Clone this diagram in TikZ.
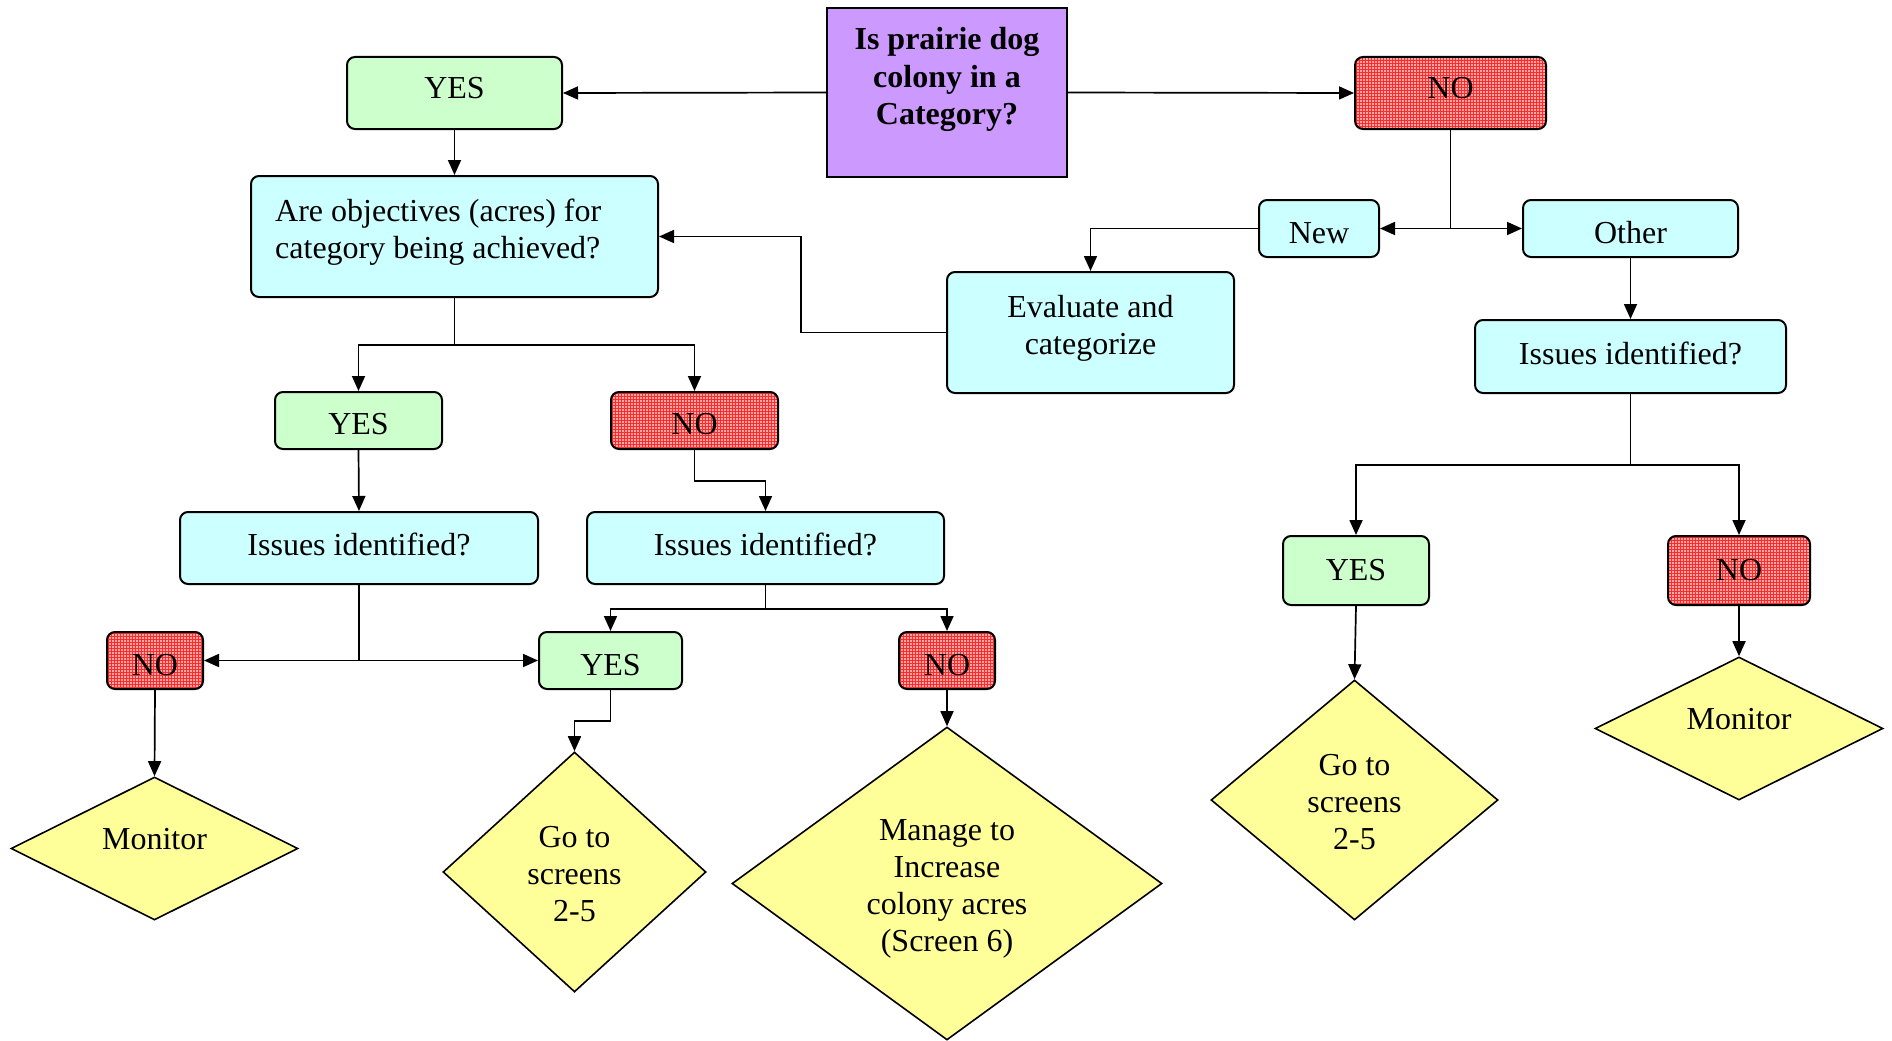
\documentclass[tikz,border=0pt]{standalone}
\usepackage{fontspec}
\setmainfont{Liberation Serif}
\usetikzlibrary{arrows.meta,shapes.geometric,patterns}
\definecolor{gfill}{HTML}{CCFFCC}
\definecolor{cfill}{HTML}{CCFFFF}
\definecolor{pfill}{HTML}{CC99FF}
\definecolor{yfill}{HTML}{FFFF99}
\definecolor{rfill}{HTML}{FFA8A8}
\definecolor{rgrid}{HTML}{FF2A2A}
\begin{document}
\begin{tikzpicture}[x=1pt,y=-1pt,
  every node/.style={font=\fontsize{32}{37}\selectfont, inner sep=0pt},
  wh/.style 2 args={minimum width=#1pt, minimum height=#2pt},
  box/.style={draw, line width=2pt, rounded corners=8pt, align=center},
  yesbox/.style={box, fill=gfill},
  nobox/.style={box, preaction={fill=rfill}, pattern=grid, pattern color=rgrid},
  cbox/.style={box, fill=cfill},
  qbox/.style={draw, line width=2pt, fill=pfill},
  diam/.style={diamond, draw, line width=1.6pt, fill=yfill},
  lbl/.style={align=center},
  conn/.style={line width=1.7pt, -{Triangle[length=15pt,width=13pt]}}
]
\useasboundingbox (0,0) rectangle (1892,1041);

% top row
\node[qbox, wh={240}{169}] (q) at (947,92.5) {};
\node[lbl, font=\fontsize{32}{37.5}\selectfont\bfseries] (qt) at (947,79.5) {Is prairie dog\\colony in a\\Category?};
\node[yesbox, wh={215}{72}, text depth=10pt] (yesTop) at (454.5,93) {YES};
\node[nobox, wh={191}{72}, text depth=10pt] (noTop) at (1450.5,93) {NO};

% objectives
\node[cbox, wh={407}{121}] (obj) at (454.5,236.5) {};
\node[align=left, anchor=west] (objt) at (275,232) {Are objectives (acres) for\\category being achieved?};

% New / Other
\node[cbox, wh={120}{57}, text height=30pt] (new) at (1319,228.5) {New};
\node[cbox, wh={215}{57}, text height=30pt] (other) at (1630.5,228.5) {Other};
\node[cbox, wh={287}{121}] (eval) at (1090.5,332.5) {};
\node[lbl] (evalt) at (1090.5,328.6) {Evaluate and\\categorize};
\node[cbox, wh={311}{73}, text depth=7pt] (issR) at (1630.5,356.5) {Issues identified?};

% middle left
\node[yesbox, wh={167}{57}, text height=28pt] (yesM) at (358.5,420.5) {YES};
\node[nobox, wh={167}{57}, text height=28pt] (noM) at (694.5,420.5) {NO};
\node[cbox, wh={358}{72}, text depth=7pt] (issL) at (359,548) {Issues identified?};
\node[cbox, wh={357}{72}, text depth=7pt] (issM) at (765.5,548) {Issues identified?};

% lower row boxes
\node[nobox, wh={96}{57}, text height=31pt] (noL) at (155,660.5) {NO};
\node[yesbox, wh={143}{57}, text height=31pt] (yesL) at (610.5,660.5) {YES};
\node[nobox, wh={96}{57}, text height=31pt] (noLM) at (947,660.5) {NO};
\node[yesbox, wh={146}{69}] (yesR) at (1356,570.5) {YES};
\node[nobox, wh={142}{69}] (noR) at (1739,570.5) {NO};

% diamonds
\node[diam, wh={287}{143}] (monL) at (154.5,848.5) {};
\node (monLt) at (154.5,838.8) {Monitor};
\node[diam, wh={263}{240}] (gotoL) at (574.5,872) {};
\node[lbl] (gotoLt) at (574.5,874.5) {Go to\\screens\\2-5};
\node[diam, wh={430}{313}] (manage) at (947,883.5) {};
\node[lbl] (managet) at (947,888.5) {Manage to\\Increase\\colony acres\\(Screen 6)};
\node[diam, wh={287}{240}] (gotoR) at (1354.5,800) {};
\node[lbl] (gotoRt) at (1354.5,802.5) {Go to\\screens\\2-5};
\node[diam, wh={288}{143}] (monR) at (1739,728.5) {};
\node (monRt) at (1739,718.8) {Monitor};

% connectors
\draw[conn] (q.west) -- (yesTop.east);
\draw[conn] (q.east) -- (noTop.west);
\draw[conn] (yesTop.south) -- (obj.north);
\draw[conn] (noTop.south) |- (new.east);
\draw[conn] (noTop.south) |- (other.west);
\draw[conn] (new.west) -| (eval.north);
\draw[conn] (eval.west) -- ++(-145,0) |- (obj.east);
\draw[conn] (other.south) -- (issR.north);
\draw[conn] (obj.south) -- ++(0,47) -| (yesM.north);
\draw[conn] (obj.south) -- ++(0,47) -| (noM.north);
\draw[conn] (yesM.south) -- (issL.north);
\draw[conn] (noM.south) -- ++(0,31) -| (issM.north);
\draw[conn] (issL.south) |- (noL.east);
\draw[conn] (issL.south) |- (yesL.west);
\draw[conn] (issM.south) -- ++(0,24) -| (yesL.north);
\draw[conn] (issM.south) -- ++(0,24) -| (noLM.north);
\draw[conn] (noL.south) -- (monL.north);
\draw[conn] (yesL.south) -- ++(0,31) -| (gotoL.north);
\draw[conn] (noLM.south) -- (manage.north);
\draw[conn] (issR.south) -- ++(0,71) -| (yesR.north);
\draw[conn] (issR.south) -- ++(0,71) -| (noR.north);
\draw[conn] (yesR.south) -- (gotoR.north);
\draw[conn] (noR.south) -- (monR.north);
\end{tikzpicture}
\end{document}
